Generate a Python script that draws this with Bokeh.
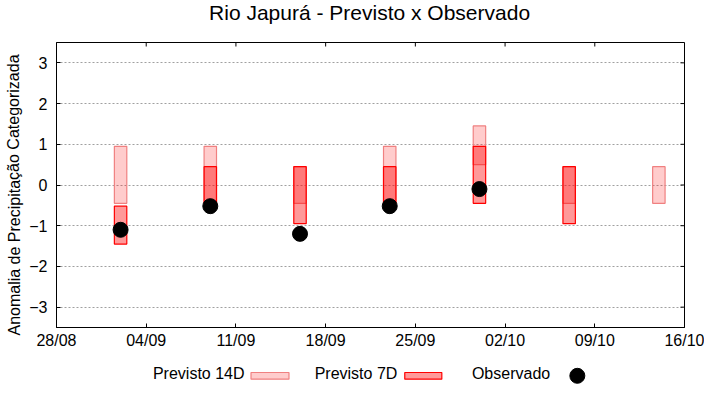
import math
import pandas as pd
from bokeh.plotting import figure
from bokeh.models import Range1d, FixedTicker, DatetimeTickFormatter
from bokeh.core.properties import value
from bokeh.layouts import column, row
from bokeh.embed import file_html
from bokeh.resources import INLINE

# ---------------- data ----------------
dates_14d = ["2023-09-02", "2023-09-09", "2023-09-16", "2023-09-23",
             "2023-09-30", "2023-10-07", "2023-10-14"]
low_14d = [-0.45, -0.45, -0.45, -0.45, 0.5, -0.45, -0.45]
high_14d = [0.95, 0.95, 0.45, 0.95, 1.45, 0.45, 0.45]

dates_7d = ["2023-09-02", "2023-09-09", "2023-09-16", "2023-09-23",
            "2023-09-30", "2023-10-07"]
low_7d = [-1.45, -0.45, -0.95, -0.45, -0.45, -0.95]
high_7d = [-0.52, 0.45, 0.45, 0.45, 0.95, 0.45]

dates_obs = ["2023-09-02", "2023-09-09", "2023-09-16", "2023-09-23",
             "2023-09-30"]
obs = [-1.1, -0.52, -1.2, -0.52, -0.1]

tick_dates = ["2023-08-28", "2023-09-04", "2023-09-11", "2023-09-18",
              "2023-09-25", "2023-10-02", "2023-10-09", "2023-10-16"]
y_ticks = [-3, -2, -1, 0, 1, 2, 3]

title_text = "Rio Japurá - Previsto x Observado"
y_label = "Anomalia de Precipitação Categorizada"
legend_labels = ["Previsto 14D", "Previsto 7D", "Observado"]


def to_ms(lst):
    idx = pd.to_datetime(lst)
    return [int(v) for v in (idx - pd.Timestamp("1970-01-01")) // pd.Timedelta(milliseconds=1)]


DAY = 86400000
FONT = "Liberation Sans"

x14 = to_ms(dates_14d)
x7 = to_ms(dates_7d)
xo = to_ms(dates_obs)
xt = to_ms(tick_dates)

TOTAL_H = 384
YW = 26                     # y-label strip width
W = 704 - YW                # width of the right column
TH = 41                     # title strip height
H = 312                     # main plot height
LH = TOTAL_H - TH - H       # legend strip height
ML, MR, MT, MB = 24, 20, 1, 26
Y0, Y1 = -3.5, 3.5


def strip(w, h, flip=True):
    f = figure(width=w, height=h, x_range=Range1d(0, w),
               y_range=Range1d(h, 0) if flip else Range1d(0, h),
               output_backend="svg", toolbar_location=None,
               min_border_left=0, min_border_right=0, min_border_top=0,
               min_border_bottom=0)
    f.axis.visible = False
    f.grid.visible = False
    f.outline_line_color = None
    return f


# ---------------- y-label strip ----------------
yf = strip(YW, TOTAL_H, flip=False)
yf.text(x=[13.5], y=[TOTAL_H - 194.5], text=[y_label], angle=[math.pi / 2],
        text_font=value(FONT), text_font_size=value("16px"),
        text_align="center", text_baseline="middle", text_color="black")

# ---------------- title strip ----------------
tf = strip(W, TH)
tf.text(x=[338], y=[11.5], text=[title_text], text_font=value(FONT),
        text_font_size=value("21px"), text_align="center",
        text_baseline="middle", text_color="black")

# ---------------- main plot ----------------
p = figure(width=W, height=H, x_axis_type="datetime",
           x_range=Range1d(xt[0], xt[-1]), y_range=Range1d(Y0, Y1),
           output_backend="svg", toolbar_location=None,
           min_border_left=ML, min_border_right=MR, min_border_top=MT,
           min_border_bottom=MB)

p.vbar(x=x14, width=0.97 * DAY, bottom=low_14d, top=high_14d,
       fill_color="red", fill_alpha=0.2, line_color="#f08080", line_width=1.2)
p.vbar(x=x7, width=0.97 * DAY, bottom=low_7d, top=high_7d,
       fill_color="red", fill_alpha=0.4, line_color="red", line_width=1.2)
p.scatter(x=xo, y=obs, size=15, fill_color="black", line_color="black")

# mirrored inward tick marks on top and right border (4 px long)
frame_w = W - ML - MR
frame_h = H - MT - MB
dy = 4 * (Y1 - Y0) / frame_h
dx = 4 * (xt[-1] - xt[0]) / frame_w
p.segment(x0=xt, y0=[Y1] * len(xt), x1=xt, y1=[Y1 - dy] * len(xt),
          line_color="black", line_width=1)
p.segment(x0=[xt[-1]] * len(y_ticks), y0=y_ticks,
          x1=[xt[-1] - dx] * len(y_ticks), y1=y_ticks,
          line_color="black", line_width=1)

fmt = DatetimeTickFormatter(microseconds="%d/%m", milliseconds="%d/%m",
                            seconds="%d/%m", minsec="%d/%m", minutes="%d/%m",
                            hourmin="%d/%m", hours="%d/%m", days="%d/%m",
                            months="%d/%m", years="%d/%m")

xa = p.xaxis[0]
xa.ticker = FixedTicker(ticks=xt)
xa.formatter = fmt
ya = p.yaxis[0]
ya.ticker = FixedTicker(ticks=y_ticks)

for ax in (xa, ya):
    ax.major_tick_in = 4
    ax.major_tick_out = 0
    ax.minor_tick_in = 0
    ax.minor_tick_out = 0
    ax.axis_line_color = "black"
    ax.major_tick_line_color = "black"
    ax.major_label_text_font = FONT
    ax.major_label_text_font_size = "16px"
    ax.major_label_text_color = "black"
xa.major_label_standoff = 4
ya.major_label_standoff = 9

p.xgrid.visible = False
p.ygrid.grid_line_color = "#a0a0a0"
p.ygrid.grid_line_dash = "2 2"
p.ygrid.grid_line_width = 1
p.outline_line_color = "black"
p.outline_line_width = 1

# ---------------- legend strip (gnuplot style: text, then sample) ----------------
leg = strip(W, LH)
leg.text(x=[203, 368, 533], y=[20, 20, 20], text=legend_labels,
         text_font=value(FONT), text_font_size=value("16px"),
         text_align="right", text_baseline="middle", text_color="black")
leg.quad(left=[210], right=[251], top=[19], bottom=[25.7],
         fill_color="red", fill_alpha=0.2, line_color="#f08080", line_width=1.2)
leg.quad(left=[376], right=[416], top=[19], bottom=[25.7],
         fill_color="red", fill_alpha=0.4, line_color="red", line_width=1.2)
leg.scatter(x=[562.3], y=[22.3], size=15, fill_color="black", line_color="black")

layout = row(yf, column(tf, p, leg, spacing=0), spacing=0)
open("out.html", "w").write(file_html(layout, INLINE))
